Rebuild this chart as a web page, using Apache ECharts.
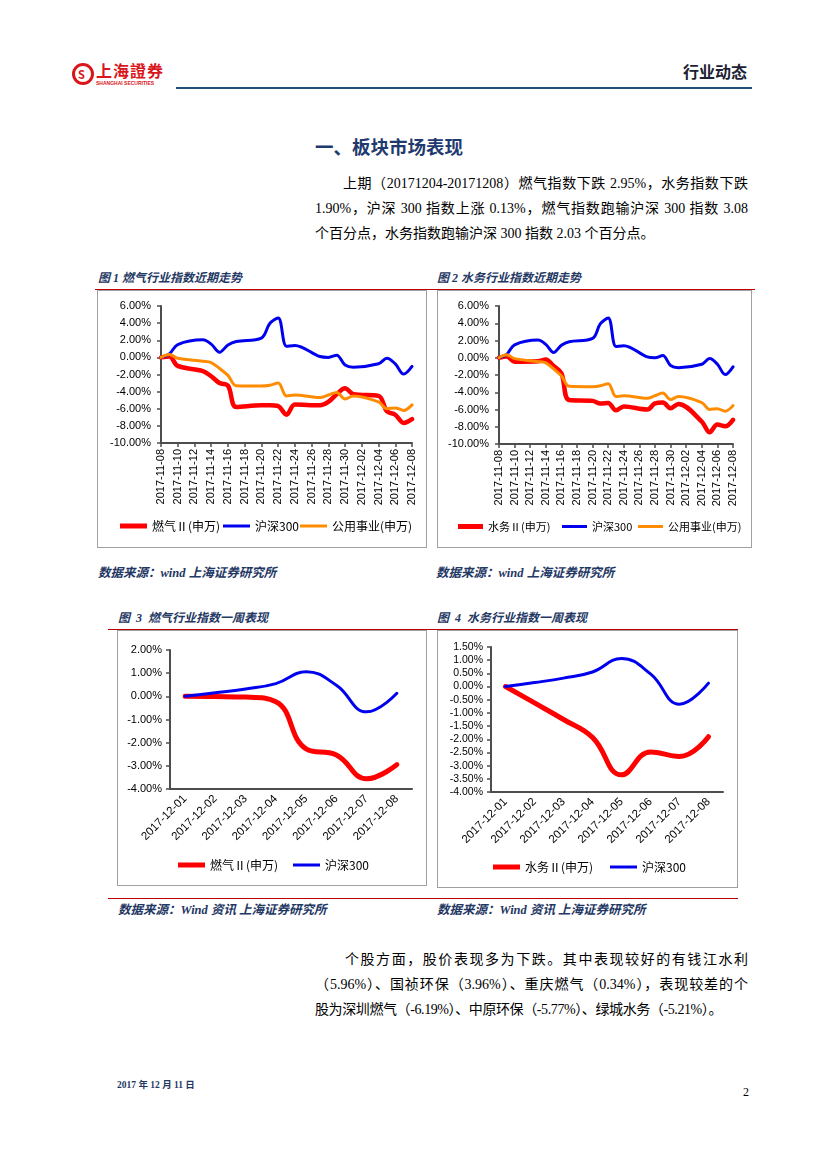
<!DOCTYPE html>
<html><head><meta charset="utf-8">
<script src="https://cdn.jsdelivr.net/npm/echarts/dist/echarts.min.js"></script>
<style>
html,body{margin:0;padding:0;background:#fff;}
body{width:827px;height:1169px;position:relative;overflow:hidden;}
.a{position:absolute;white-space:nowrap;}
.p{position:absolute;font-family:"Liberation Serif","Noto Sans CJK SC",serif;font-size:14px;line-height:18px;color:#000;text-align:justify;text-align-last:justify;}
.p.l{text-align:left;text-align-last:left;}
.cap{position:absolute;font-family:"Liberation Serif","Noto Sans CJK SC",serif;font-weight:bold;font-style:italic;font-size:12px;line-height:14px;color:#1f3864;white-space:pre;}
.src{position:absolute;font-family:"Liberation Serif","Noto Sans CJK SC",serif;font-weight:bold;font-style:italic;font-size:12.5px;line-height:16px;color:#1f3864;white-space:pre;}
.rl{position:absolute;height:1px;background:#c00000;}
.box{position:absolute;border:1px solid #a0a0a0;box-sizing:border-box;}
.ch{position:absolute;}
</style></head>
<body>
<!-- header -->
<div class="a" style="left:72px;top:63px;width:16px;height:16px;border:3px solid #d9161c;border-radius:50%;"></div>
<div class="a" style="left:78px;top:66px;font:bold 11px 'Noto Sans CJK SC';color:#d9161c;">S</div>
<div class="a" style="left:96px;top:60px;font:bold 16px/20px 'Noto Sans CJK SC';color:#d9161c;letter-spacing:1px;">上海證券</div>
<div class="a" style="left:96px;top:80px;font:bold 5px/6px 'Liberation Sans';color:#d9161c;">SHANGHAI SECURITIES</div>
<div class="a" style="left:683px;top:61px;font:bold 16px/20px 'Noto Sans CJK SC';color:#1c2233;">行业动态</div>
<div class="a" style="left:176px;top:87px;width:576px;height:2px;background:#1f4e79;"></div>

<!-- title and paragraph -->
<div class="a" style="left:315px;top:135px;font:bold 18.5px/22px 'Noto Sans CJK SC';color:#1f3a6e;">一、板块市场表现</div>
<div class="p" style="left:343px;top:175px;width:405px;">上期（20171204-20171208）燃气指数下跌 2.95%，水务指数下跌</div>
<div class="p" style="left:315px;top:200px;width:433px;">1.90%，沪深 300 指数上涨 0.13%，燃气指数跑输沪深 300 指数 3.08</div>
<div class="p l" style="left:315px;top:225px;">个百分点，水务指数跑输沪深 300 指数 2.03 个百分点。</div>

<!-- figure 1 / 2 -->
<div class="cap" style="left:98px;top:271px;">图 1 燃气行业指数近期走势</div>
<div class="cap" style="left:437px;top:271px;">图 2 水务行业指数近期走势</div>
<div class="rl" style="left:95px;top:289px;width:660px;"></div>
<div class="box" style="left:97px;top:290px;width:330px;height:258px;"></div>
<div class="box" style="left:437px;top:290px;width:315px;height:258px;"></div>
<div id="c1" class="ch" style="left:97px;top:289px;width:330px;height:259px;"></div>
<div id="c2" class="ch" style="left:437px;top:289px;width:315px;height:259px;"></div>
<div class="src" style="left:98px;top:565px;">数据来源：wind 上海证券研究所</div>
<div class="src" style="left:436px;top:565px;">数据来源：wind 上海证券研究所</div>

<!-- figure 3 / 4 -->
<div class="cap" style="left:118px;top:611px;">图  3  燃气行业指数一周表现</div>
<div class="cap" style="left:437px;top:611px;">图  4  水务行业指数一周表现</div>
<div class="rl" style="left:108px;top:629px;width:630px;"></div>
<div class="box" style="left:117px;top:630px;width:310px;height:256px;"></div>
<div class="box" style="left:437px;top:630px;width:301px;height:258px;"></div>
<div id="c3" class="ch" style="left:117px;top:630px;width:310px;height:256px;"></div>
<div id="c4" class="ch" style="left:437px;top:630px;width:301px;height:258px;"></div>
<div class="rl" style="left:108px;top:898px;width:630px;"></div>
<div class="src" style="left:118px;top:902px;">数据来源：Wind 资讯 上海证券研究所</div>
<div class="src" style="left:437px;top:902px;">数据来源：Wind 资讯 上海证券研究所</div>

<!-- paragraph 2 -->
<div class="p" style="left:345px;top:951px;width:403px;">个股方面，股价表现多为下跌。其中表现较好的有钱江水利</div>
<div class="p" style="left:315px;top:976px;width:433px;">（5.96%）、国祯环保（3.96%）、重庆燃气（0.34%），表现较差的个</div>
<div class="p l" style="left:315px;top:1001px;letter-spacing:-0.4px;">股为深圳燃气（-6.19%）、中原环保（-5.77%）、绿城水务（-5.21%）。</div>

<!-- footer -->
<div class="a" style="left:117px;top:1079px;font:bold 9.5px/12px 'Liberation Serif','Noto Sans CJK SC';color:#1f3864;">2017 年 12 月 11 日</div>
<div class="a" style="left:743px;top:1085px;font:12px/14px 'Liberation Serif';color:#000;">2</div>

<script>
// ---------- data ----------
const tradingDays = ['2017-11-08','2017-11-09','2017-11-10','2017-11-13','2017-11-14','2017-11-15','2017-11-16','2017-11-17','2017-11-20','2017-11-21','2017-11-22','2017-11-23','2017-11-24','2017-11-27','2017-11-28','2017-11-29','2017-11-30','2017-12-01','2017-12-04','2017-12-05','2017-12-06','2017-12-07','2017-12-08'];
const gasIndex = [0, 0.1, -1.0, -1.6, -2.2, -3.0, -3.3, -5.8, -5.6, -5.6, -5.7, -6.7, -5.5, -5.6, -5.2, -4.3, -3.6, -4.3, -4.5, -6.3, -6.7, -7.65, -7.2];
const waterIndex = [0, 0.15, -0.45, -0.4, -0.2, -0.95, -1.8, -4.9, -5.0, -5.3, -5.25, -6.1, -5.65, -6.0, -5.3, -5.2, -5.85, -5.35, -7.4, -8.65, -7.75, -7.95, -7.2];
const hs300Index = [0, 0.4, 1.5, 2.05, 1.55, 0.6, 1.45, 1.85, 2.25, 3.95, 4.6, 1.3, 1.4, 0.1, 0.0, 0.25, -0.9, -1.15, -0.75, -0.1, -0.75, -1.95, -1.05];
const utilIndex = [0, 0.35, -0.1, -0.45, -0.6, -1.3, -2.1, -3.3, -3.35, -3.25, -3.0, -4.5, -4.4, -4.7, -4.4, -4.1, -4.85, -4.5, -5.2, -6.0, -5.9, -6.2, -5.55];

const weekDays = ['2017-12-01','2017-12-02','2017-12-03','2017-12-04','2017-12-05','2017-12-06','2017-12-07','2017-12-08'];
const gasWeek = [0, -0.01, -0.03, -0.23, -2.27, -2.53, -3.56, -2.95];
const waterWeek = [0, -0.62, -1.25, -1.93, -3.35, -2.48, -2.65, -1.90];
const hs300Week = [0, 0.15, 0.32, 0.55, 1.06, 0.48, -0.67, 0.13];

const nameGas = '燃气Ⅱ(申万)', nameWater = '水务Ⅱ(申万)', nameHs = '沪深300', nameUtil = '公用事业(申万)';

// ---------- helpers ----------
function calendar(days){
  const out=[]; let t=Date.parse(days[0]+'T00:00:00Z'); const end=Date.parse(days[days.length-1]+'T00:00:00Z');
  for(; t<=end; t+=86400000) out.push(new Date(t).toISOString().slice(0,10));
  return out;
}
const calDays = calendar(tradingDays);
function onCalendar(vals){ return calDays.map(d=>{const i=tradingDays.indexOf(d); return i<0?null:vals[i];}); }

const RED='#ff0000', BLUE='#0000ee', ORANGE='#ff8c00', AX='#4d4d4d';
const lblFont = {fontFamily:'Liberation Sans, Arial, sans-serif', color:'#000'};

function ser(name, data, color, width, smooth){
  return {name, type:'line', data, smooth, connectNulls:true, showSymbol:false, symbol:'none',
    lineStyle:{color, width, cap:'round', join:'round'}, itemStyle:{color}, emphasis:{disabled:true}};
}
function leg(name, left, top, h, fs, w){
  return {data:[{name, icon:'rect'}], left, top, itemWidth:w||27, itemHeight:h, itemGap:0, padding:0,
    textStyle:{fontFamily:'Noto Sans CJK SC, sans-serif', fontSize:fs||12, color:'#000'}, selectedMode:false};
}
function yAx(min,max,interval,margin,fs){
  return {type:'value', min, max, interval, splitLine:{show:false},
    axisLine:{show:true, lineStyle:{color:AX, width:2}},
    axisTick:{show:true, length:4, lineStyle:{color:AX, width:1.5}},
    axisLabel:Object.assign({formatter:v=>v.toFixed(2)+'%', margin, fontSize:fs}, lblFont)};
}

function monthChart(id, grid, redName, redVals, legs){
  const c = echarts.init(document.getElementById(id), null, {renderer:'canvas'});
  c.setOption({
    animation:false,
    grid,
    xAxis:{type:'category', data:calDays, boundaryGap:false,
      axisLine:{onZero:false, lineStyle:{color:AX, width:2}},
      axisTick:{interval:1, length:4, lineStyle:{color:AX, width:1.5}},
      axisLabel:Object.assign({interval:1, rotate:90, margin:6, fontSize:11}, lblFont)},
    yAxis:yAx(-10,6,2,10,11),
    legend:legs,
    series:[
      ser(redName, onCalendar(redVals), RED, 4.5, 0.35),
      ser(nameHs, onCalendar(hs300Index), BLUE, 3, 0.35),
      ser(nameUtil, onCalendar(utilIndex), ORANGE, 3, 0.35)
    ]
  });
}
function weekChart(id, grid, redName, redVals, legs, ymin, ymax, step, fs){
  const c = echarts.init(document.getElementById(id), null, {renderer:'canvas'});
  c.setOption({
    animation:false,
    grid,
    xAxis:{type:'category', data:weekDays, boundaryGap:true,
      axisLine:{onZero:false, lineStyle:{color:AX, width:2}},
      axisTick:{length:5, lineStyle:{color:AX, width:1.5}},
      axisLabel:Object.assign({interval:0, rotate:45, margin:8, fontSize:11.5}, lblFont)},
    yAxis:yAx(ymin,ymax,step,8,fs),
    legend:legs,
    series:[
      ser(redName, redVals, RED, 5, 0.45),
      ser(nameHs, hs300Week, BLUE, 3, 0.45)
    ]
  });
}

monthChart('c1', {left:64, top:17, right:15, bottom:105}, nameGas, gasIndex,
  [leg(nameGas,23,231,5), leg(nameHs,126,231,3), leg(nameUtil,203,231,3)]);
monthChart('c2', {left:62, top:17, right:19, bottom:104}, nameWater, waterIndex,
  [leg(nameWater,21,232,5,11,25), leg(nameHs,125,232,3,11,25), leg(nameUtil,201,232,3,11,25)]);
weekChart('c3', {left:53, top:20, right:15, bottom:97}, nameGas, gasWeek,
  [leg(nameGas,61,229,5), leg(nameHs,176,229,3)], -4, 2, 1, 11);
weekChart('c4', {left:54, top:17, right:15, bottom:96}, nameWater, waterWeek,
  [leg(nameWater,56,231,5), leg(nameHs,173,231,3)], -4, 1.5, 0.5, 10.5);
</script>
</body></html>
